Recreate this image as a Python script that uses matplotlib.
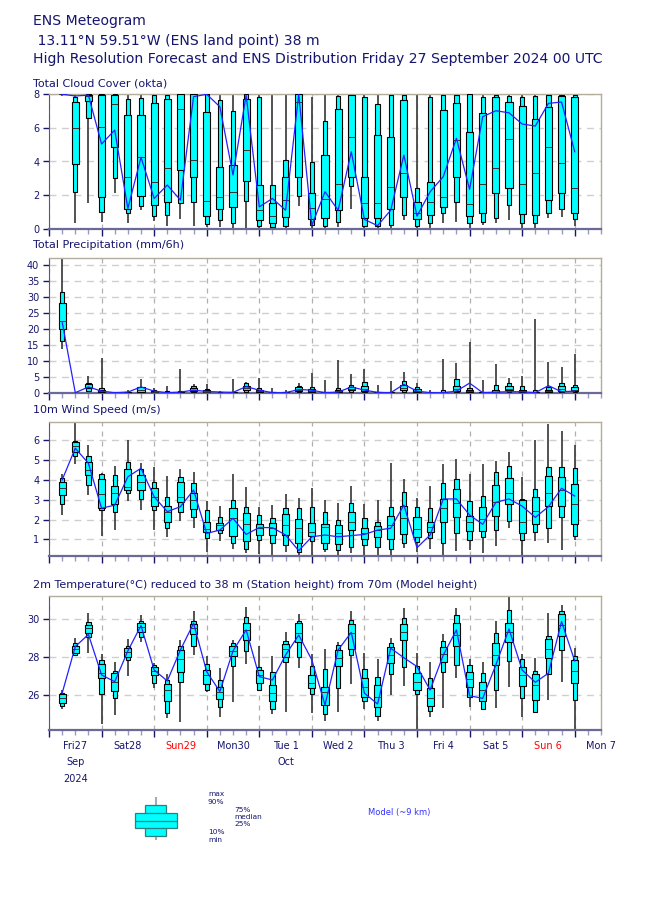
import numpy as np
import matplotlib
matplotlib.use('Agg')
import matplotlib.pyplot as plt
from matplotlib import transforms

# forecast steps (hours from base time)
steps = np.arange(6, 246, 6)

# Total cloud cover (okta)
cc_max = [8, 8, 8, 8, 8, 8, 8, 8, 8, 8, 8, 8, 8, 8, 8, 8, 8, 8, 8, 7.86,
          8, 8, 8, 8, 8, 8, 8, 8, 8, 8, 8, 8, 8, 8, 8, 8, 8, 8, 8, 8]
cc_p90 = [8, 7.85, 8, 8, 8, 7.72, 7.8, 7.95, 7.95, 8, 8, 8, 7.66, 7.02, 8, 7.82, 2.6, 4.09, 8, 3.99,
          6.43, 7.92, 7.95, 7.82, 7.4, 7.95, 7.95, 2.4, 7.82, 7.95, 7.95, 8, 7.82, 7.95, 7.92, 7.82, 7.92, 7.95, 7.95, 7.95]
cc_p75 = [8, 7.52, 7.95, 7.98, 7.95, 6.75, 6.75, 7.46, 7.74, 8, 8, 6.96, 3.69, 3.77, 7.7, 2.58, 1.5, 3.1, 8, 2.14,
          4.37, 7.14, 7.95, 3.1, 5.58, 5.48, 7.66, 1.57, 2.76, 7.06, 7.46, 5.73, 6.86, 7.82, 7.56, 7.32, 6.53, 7.22, 7.92, 7.82]
cc_med = [8, 6.01, 7.9, 6.07, 7.4, 3.1, 4.25, 2.76, 3.59, 7.1, 4.09, 1.65, 1.87, 2.16, 4.68, 1.11, 0.75, 1.7, 7.52, 1.25,
          1.77, 2.64, 5.48, 1.55, 1.55, 2.5, 3.29, 0.91, 1.57, 1.9, 5.28, 1.45, 2.64, 3.59, 5.32, 2.64, 3.33, 4.84, 3.89, 2.4]
cc_p25 = [8, 3.83, 7.62, 1.87, 4.84, 1.2, 1.96, 1.39, 1.6, 3.49, 3.1, 0.75, 1.2, 1.31, 2.84, 0.52, 0.32, 0.71, 3.06, 0.56,
          0.63, 1.11, 3.1, 0.62, 0.62, 1.2, 1.87, 0.58, 0.81, 1.27, 3.06, 0.75, 0.91, 2.1, 2.44, 0.87, 0.81, 1.71, 2.1, 0.95]
cc_p10 = [8, 2.2, 6.6, 1.01, 3.0, 0.91, 1.37, 0.75, 0.81, 1.5, 1.57, 0.26, 0.52, 0.32, 1.65, 0.16, 0.08, 0.16, 1.94, 0.22,
          0.16, 0.42, 2.54, 0.16, 0.16, 0.22, 0.81, 0.18, 0.32, 0.91, 1.6, 0.36, 0.42, 0.62, 1.41, 0.32, 0.32, 0.91, 1.2, 0.56]
cc_min = [7.9, 0.32, 1.55, 0.42, 2.1, 0.32, 1.1, 0.46, 0.16, 0.55, 0.18, 0.12, 0.12, 0, 0, 0, 0, 0, 1.35, 0,
          0, 0.12, 1.2, 0, 0, 0, 0.52, 0, 0, 0.36, 0.42, 0, 0.22, 0.32, 0.52, 0, 0, 0.62, 0.71, 0.18]
cc_hres = [8, 7.9, 7.95, 5.04, 5.87, 1.2, 4.25, 1.8, 2.6, 1.7, 7.86, 8, 7.26, 3.2, 7.95, 1.3, 1.8, 1.1, 8, 0.2,
           2.2, 1.1, 4.58, 0.55, 0.18, 1.1, 4.38, 0.75, 2.2, 3.1, 5.38, 2.34, 6.67, 7.02, 6.9, 6.23, 6.11, 7.46, 7.54, 4.58]

# Total precipitation (mm/6h)
pr_max = [45, 0, 5.2, 11, 0.3, 0.8, 4.2, 1.6, 2.2, 7.3, 2.7, 2.7, 0.4, 4.4, 3.2, 4.5, 1.6, 1.0, 2.9, 6.1,
          4.0, 10.2, 5.8, 7.4, 2.4, 3.7, 6.4, 3.1, 0.8, 10.5, 9.4, 15.9, 4.0, 9.0, 4.5, 5.2, 23.2, 9.7, 8.1, 12.1]
pr_p90 = [31.4, 0, 3.1, 1.4, 0.1, 0.3, 1.9, 0.8, 0.5, 0.5, 2.1, 1.1, 0.1, 0.3, 3.1, 1.4, 0.3, 0.2, 2.1, 1.7,
          0.3, 1.5, 2.4, 3.2, 0.3, 0.3, 3.8, 1.9, 0.1, 0.8, 4.2, 1.6, 0.3, 2.4, 3.1, 2.1, 0.8, 1.7, 3.1, 2.4]
pr_p75 = [28.2, 0, 2.7, 1.0, 0, 0.1, 1.7, 0.6, 0.2, 0.2, 1.4, 0.8, 0, 0.1, 2.1, 1.0, 0.1, 0.1, 1.7, 1.2,
          0.1, 1.0, 1.9, 2.1, 0.1, 0.1, 2.4, 1.3, 0, 0.3, 2.2, 1.0, 0.1, 0.8, 2.1, 1.0, 0.3, 1.0, 2.1, 1.9]
pr_med = [22.4, 0, 1.9, 0.5, 0, 0, 0.8, 0.3, 0, 0, 0.8, 0.3, 0, 0, 1.6, 0.4, 0, 0, 1.0, 0.5,
          0, 0.4, 1.3, 1.3, 0, 0, 1.5, 0.6, 0, 0.1, 1.3, 0.4, 0, 0.2, 1.3, 0.4, 0, 0.5, 1.3, 1.0]
pr_p25 = [19.9, 0, 1.4, 0.3, 0, 0, 0.3, 0.1, 0, 0, 0.4, 0.1, 0, 0, 0.8, 0.1, 0, 0, 0.6, 0.2,
          0, 0.1, 0.8, 0.6, 0, 0, 0.8, 0.2, 0, 0, 0.6, 0.1, 0, 0, 0.8, 0.1, 0, 0.1, 0.6, 0.6]
pr_p10 = [16.2, 0, 0.5, 0, 0, 0, 0, 0, 0, 0, 0.1, 0, 0, 0, 0.3, 0, 0, 0, 0.2, 0,
          0, 0, 0.3, 0.2, 0, 0, 0.3, 0, 0, 0, 0.2, 0, 0, 0, 0.3, 0, 0, 0, 0.2, 0.2]
pr_min = [13.6, 0, 0, 0, 0, 0, 0, 0, 0, 0, 0, 0, 0, 0, 0, 0, 0, 0, 0, 0,
          0, 0, 0, 0, 0, 0, 0, 0, 0, 0, 0, 0, 0, 0, 0, 0, 0, 0, 0, 0]
pr_hres = [22.2, 0, 1.8, 0.5, 0, 0.2, 1.8, 0.5, 0, 0.2, 0.8, 0.4, 0.2, 0.1, 1.9, 0.8, 0, 0, 1.0, 0.8,
           0, 0.2, 1.8, 0.8, 0.1, 0, 2.6, 0.5, 0, 0, 0.5, 3.0, 0, 0.2, 0.3, 0.3, 0, 2.2, 0.3, 0.5]

# 10m wind speed (m/s)
ws_max = [4.3, 6.94, 5.76, 4.33, 4.7, 6.02, 4.84, 4.67, 4.2, 4.54, 4.42, 2.94, 2.68, 4.3, 3.63, 2.65, 2.73, 3.27, 3.07, 3.58,
          2.99, 2.85, 3.69, 2.78, 2.99, 4.84, 4.03, 3.07, 3.69, 4.8, 5.04, 4.3, 4.8, 4.97, 5.39, 4.13, 6.02, 6.82, 6.49, 5.76]
ws_p90 = [4.08, 5.98, 5.21, 4.3, 4.23, 4.92, 4.54, 3.88, 3.15, 4.13, 3.83, 2.48, 2.14, 2.99, 2.62, 2.23, 2.06, 2.57, 2.57, 2.62,
          2.36, 1.98, 2.85, 2.06, 1.86, 2.62, 3.37, 2.62, 2.6, 3.83, 4.03, 2.94, 3.2, 4.38, 4.72, 3.02, 3.54, 4.64, 4.64, 4.59]
ws_p75 = [3.91, 5.93, 4.89, 4.05, 3.71, 4.54, 4.25, 3.58, 2.7, 3.88, 3.36, 1.88, 1.84, 2.57, 2.35, 1.77, 1.81, 2.26, 2.03, 1.84,
          1.77, 1.72, 2.36, 1.56, 1.69, 2.2, 2.68, 2.14, 1.86, 3.04, 3.53, 2.2, 2.65, 3.74, 4.08, 2.99, 3.12, 4.22, 4.16, 3.78]
ws_med = [3.58, 5.73, 4.5, 3.27, 3.32, 3.63, 3.91, 3.15, 2.36, 3.15, 2.99, 1.5, 1.72, 2.06, 1.77, 1.56, 1.56, 1.72, 1.56, 1.35,
          1.61, 1.3, 1.89, 1.3, 1.47, 1.72, 2.06, 1.5, 1.64, 2.6, 2.82, 1.89, 2.01, 2.9, 3.32, 1.86, 2.43, 3.32, 3.49, 2.77]
ws_p25 = [3.24, 5.43, 4.25, 2.57, 2.78, 3.49, 3.49, 2.7, 1.86, 2.87, 2.52, 1.35, 1.47, 1.17, 0.92, 1.22, 1.22, 1.22, 0.83, 1.17,
          0.83, 0.76, 1.47, 1.0, 1.13, 1.0, 1.27, 1.13, 1.35, 1.89, 2.11, 1.44, 1.42, 2.18, 2.77, 1.3, 1.76, 2.68, 2.7, 1.77]
ws_p10 = [2.77, 5.21, 3.74, 2.48, 2.4, 3.32, 3.02, 2.48, 1.56, 2.4, 2.14, 1.08, 1.3, 0.8, 0.49, 0.97, 0.83, 0.71, 0.38, 0.93,
          0.51, 0.46, 0.63, 0.71, 0.63, 0.49, 0.8, 0.88, 1.08, 0.8, 1.3, 0.97, 1.1, 1.47, 1.93, 0.97, 1.35, 1.59, 2.11, 1.19]
ws_min = [2.23, 4.8, 3.24, 1.17, 1.47, 2.95, 2.48, 1.47, 1.13, 1.94, 1.59, 0.38, 0.93, 0.49, 0.33, 0.26, 0.21, 0.38, 0.21, 0.12,
          0.38, 0.12, 0.33, 0.16, 0.12, 0.16, 0.55, 0.38, 0.49, 0.16, 0.41, 0.46, 0.29, 0.66, 1.56, 0.12, 0.92, 0.83, 0.46, 0.97]
ws_hres = [4.0, 5.6, 4.84, 2.57, 2.73, 4.16, 4.59, 3.15, 2.4, 2.65, 3.49, 1.3, 1.47, 2.06, 1.25, 1.6, 1.59, 1.22, 0.43, 1.13,
           1.22, 1.13, 1.19, 1.25, 1.47, 1.56, 2.73, 0.58, 1.22, 3.04, 3.04, 2.23, 1.76, 2.87, 3.04, 2.68, 2.11, 2.65, 3.58, 3.19]

# 2m temperature (deg C)
t_max = [26.26, 29.03, 30.35, 28.15, 27.73, 28.96, 30.23, 27.67, 27.09, 28.91, 30.44, 28.08, 27.41, 28.91, 30.63, 28.61, 28.08, 29.35, 30.26, 28.17,
         28.43, 28.82, 30.44, 28.2, 27.9, 29.0, 30.58, 28.2, 27.73, 29.21, 30.58, 27.9, 27.73, 29.91, 31.3, 28.17, 27.97, 30.32, 30.76, 28.5]
t_p90 = [26.09, 28.73, 29.88, 27.85, 27.27, 28.59, 29.91, 27.59, 26.79, 28.59, 29.91, 27.62, 26.79, 28.77, 30.14, 27.5, 27.2, 28.85, 29.91, 27.55,
         27.36, 28.64, 29.96, 27.36, 26.97, 28.77, 30.05, 27.55, 26.88, 28.85, 30.23, 27.59, 27.18, 29.26, 30.49, 27.89, 27.27, 29.14, 30.44, 28.08]
t_p75 = [26.04, 28.61, 29.7, 27.62, 27.15, 28.5, 29.79, 27.5, 26.56, 28.38, 29.75, 27.32, 26.41, 28.59, 29.79, 27.32, 26.53, 28.68, 29.79, 27.06,
         26.44, 28.38, 29.74, 26.88, 26.53, 28.56, 29.75, 27.15, 26.35, 28.56, 29.82, 27.2, 26.7, 28.73, 29.79, 27.5, 27.09, 28.94, 30.26, 27.85]
t_med = [25.82, 28.43, 29.52, 27.15, 26.7, 28.26, 29.61, 27.27, 26.26, 27.9, 29.52, 27.06, 26.18, 28.33, 29.44, 27.06, 26.09, 28.41, 29.26, 26.62,
         26.18, 27.94, 29.26, 26.44, 25.91, 28.11, 29.35, 26.7, 25.82, 28.17, 29.17, 26.83, 26.26, 28.11, 29.35, 27.06, 26.53, 28.43, 29.7, 27.27]
t_p25 = [25.59, 28.24, 29.26, 26.88, 26.23, 28.03, 29.31, 27.06, 25.68, 27.23, 29.21, 26.56, 25.79, 28.06, 28.91, 26.62, 25.7, 28.03, 28.82, 26.35,
         25.47, 27.53, 28.43, 25.91, 25.38, 27.67, 28.91, 26.26, 25.44, 27.73, 28.61, 26.44, 25.68, 27.59, 28.82, 26.49, 25.74, 27.94, 29.12, 26.62]
t_p10 = [25.42, 28.11, 29.08, 26.05, 25.82, 27.85, 29.08, 26.65, 25.03, 26.7, 28.61, 26.26, 25.38, 27.53, 28.33, 26.26, 25.24, 27.73, 28.03, 26.04,
         24.98, 26.35, 28.11, 25.68, 24.89, 27.11, 27.46, 26.05, 25.15, 27.23, 27.59, 25.91, 25.24, 26.26, 27.8, 25.82, 25.12, 27.11, 28.38, 25.74]
t_min = [25.24, 28.08, 28.2, 24.45, 24.94, 27.02, 28.82, 26.39, 24.77, 24.59, 28.11, 26.14, 24.85, 25.61, 27.62, 26.26, 24.98, 25.12, 27.41, 25.03,
         24.63, 25.12, 26.58, 25.24, 24.64, 26.0, 26.48, 24.0, 24.85, 25.33, 26.88, 25.38, 25.2, 25.3, 26.44, 24.85, 25.03, 25.74, 26.67, 24.2]
t_hres = [26.09, 28.56, 29.2, 27.06, 26.7, 28.33, 29.67, 27.32, 26.74, 28.38, 29.79, 27.23, 26.18, 28.33, 29.44, 26.97, 26.79, 28.11, 29.17, 27.85,
          25.47, 28.38, 29.31, 26.09, 25.52, 28.47, 27.97, 27.5, 26.26, 28.11, 29.44, 25.96, 25.82, 27.59, 29.49, 27.32, 26.67, 27.15, 29.88, 27.8]

days = ['Fri27', 'Sat28', 'Sun29', 'Mon30', 'Tue 1', 'Wed 2', 'Thu 3', 'Fri 4', 'Sat 5', 'Sun 6', 'Mon 7']

NAVY = '#15156e'
CYAN = '#00ffff'
W_BOX = 3.2
W_NARROW = 1.9


def draw_panel(ax, mn, p10, p25, med, p75, p90, mx, hres, ylim, yticks):
    mn, p10, p25, med, p75, p90, mx = map(np.asarray, (mn, p10, p25, med, p75, p90, mx))
    ax.vlines(steps, mn, mx, color='#444444', lw=1.3, zorder=2)
    ax.bar(steps, p90 - p10, bottom=p10, width=W_NARROW, color=CYAN,
           edgecolor='black', lw=0.8, zorder=3)
    ax.bar(steps, p75 - p25, bottom=p25, width=W_BOX, color=CYAN,
           edgecolor='black', lw=0.8, zorder=4)
    ax.hlines(med, steps - W_BOX / 2, steps + W_BOX / 2, color='#333333', lw=0.7, zorder=5)
    ax.plot(steps, hres, color='#2222ff', lw=0.9, zorder=6)

    ax.set_xlim(0, 252)
    ax.set_ylim(*ylim)
    ax.set_yticks(yticks)
    ax.set_xticks(np.arange(0, 241, 24))
    ax.set_xticks(np.arange(0, 253, 6), minor=True)
    ax.set_xticklabels([])
    ax.tick_params(axis='y', colors=NAVY, labelsize=7, length=4, width=1, pad=3)
    ax.tick_params(axis='x', which='major', direction='out', length=5, width=1, color=NAVY)
    ax.tick_params(axis='x', which='minor', direction='out', length=3.5, width=1, color='#9a9ac0')
    ax.yaxis.grid(True, ls=(0, (5, 4)), color='#cfcfcf', lw=1)
    ax.xaxis.grid(True, which='major', ls=(0, (4, 4)), color='#b0b0b0', lw=0.9)
    ax.set_axisbelow(True)
    ax.spines['left'].set_color('#55558a')
    ax.spines['bottom'].set_color('#6a6a96')
    ax.spines['bottom'].set_linewidth(1.6)
    for s in ('top', 'right'):
        ax.spines[s].set_color('#b4ac9c')
        ax.spines[s].set_linewidth(1)


fig = plt.figure(figsize=(6.5, 9.16), dpi=100)
fw, fh = 650.0, 916.0


def add_ax(top, bottom):
    return fig.add_axes([49 / fw, 1 - bottom / fh, 552 / fw, (bottom - top) / fh])


ax_c = add_ax(94.3, 228.7)
ax_p = add_ax(258.3, 392.7)
ax_w = add_ax(422.3, 556.0)
ax_t = add_ax(595.7, 730.3)

draw_panel(ax_c, cc_min, cc_p10, cc_p25, cc_med, cc_p75, cc_p90, cc_max, cc_hres, (0, 8), [0, 2, 4, 6, 8])
draw_panel(ax_p, pr_min, pr_p10, pr_p25, pr_med, pr_p75, pr_p90, pr_max, pr_hres, (0, 42.1), np.arange(0, 41, 5))
draw_panel(ax_w, ws_min, ws_p10, ws_p25, ws_med, ws_p75, ws_p90, ws_max, ws_hres, (0.16, 6.91), [1, 2, 3, 4, 5, 6])
draw_panel(ax_t, t_min, t_p10, t_p25, t_med, t_p75, t_p90, t_max, t_hres, (24.13, 31.25), [26, 28, 30])

# header
fig.text(33 / fw, 1 - 21 / fh, 'ENS Meteogram', color=NAVY, fontsize=10.1, va='center')
fig.text(33 / fw, 1 - 41 / fh, ' 13.11°N 59.51°W (ENS land point) 38 m', color=NAVY, fontsize=10.1, va='center')
fig.text(33 / fw, 1 - 59.5 / fh, 'High Resolution Forecast and ENS Distribution Friday 27 September 2024 00 UTC',
         color=NAVY, fontsize=10.1, va='center')

# panel titles
titles = [(83, 'Total Cloud Cover (okta)'), (245, 'Total Precipitation (mm/6h)'),
          (410, '10m Wind Speed (m/s)'),
          (585, '2m Temperature(°C) reduced to 38 m (Station height) from 70m (Model height)')]
for y, t in titles:
    fig.text(33 / fw, 1 - y / fh, t, color=NAVY, fontsize=8, va='center')

# date labels under the temperature panel
trans = transforms.blended_transform_factory(ax_t.transData, fig.transFigure)
for i, d in enumerate(days):
    col = 'red' if d.startswith('Sun') else NAVY
    ax_t.text(12 + 24 * i, 1 - 746 / fh, d, transform=trans, ha='center', va='center',
              fontsize=7, color=col)
ax_t.text(12, 1 - 762 / fh, 'Sep', transform=trans, ha='center', va='center', fontsize=7, color=NAVY)
ax_t.text(12, 1 - 779 / fh, '2024', transform=trans, ha='center', va='center', fontsize=7, color=NAVY)
ax_t.text(108, 1 - 762 / fh, 'Oct', transform=trans, ha='center', va='center', fontsize=7, color=NAVY)

# legend key
lg = fig.add_axes([120 / fw, 1 - 845 / fh, 400 / fw, 65 / fh])
lg.set_xlim(120, 520)
lg.set_ylim(845, 780)
lg.axis('off')
lg.vlines(155.7, 797, 840, color='#aaaaaa', lw=1.5, zorder=1)
lg.bar(155.7, 836 - 805, bottom=805, width=20.6, color=CYAN, edgecolor='#2f7f7f', lw=0.9, zorder=2)
lg.bar(155.7, 828.3 - 813.3, bottom=813.3, width=41.7, color=CYAN, edgecolor='#2f7f7f', lw=0.9, zorder=3)
lg.hlines(820.7, 135, 176.7, color='#2f7f7f', lw=0.9, zorder=4)
for x, y, t in [(208, 794, 'max'), (208, 802, '90%'), (234, 810, '75%'), (234, 817, 'median'),
                (234, 824, '25%'), (208, 832, '10%'), (208, 839.5, 'min')]:
    lg.text(x, y, t, fontsize=5.3, color=NAVY, va='center', linespacing=1)
lg.text(368, 813, 'Model (~9 km)', fontsize=6, color='#3333ff', va='center')

fig.savefig('out.png', dpi=100)
